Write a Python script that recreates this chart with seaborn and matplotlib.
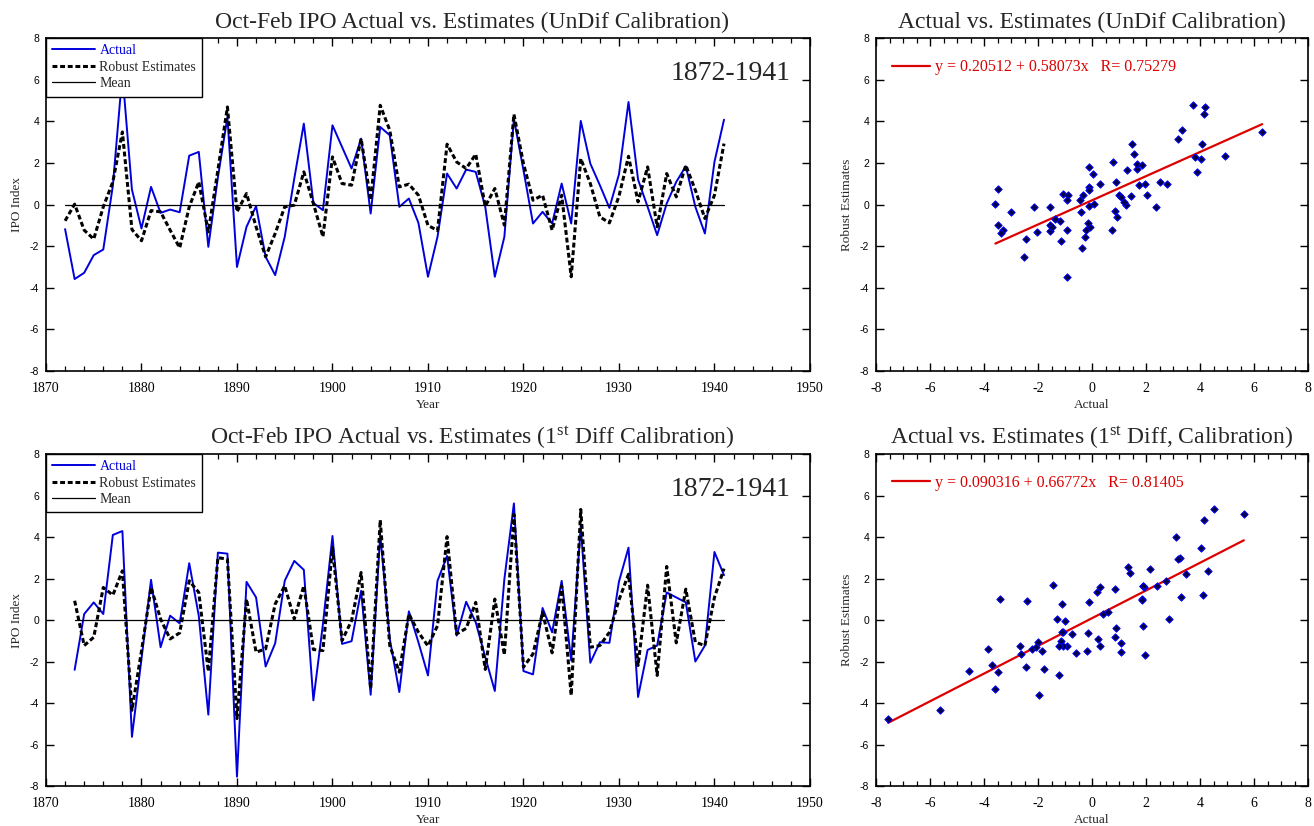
import numpy as np
import pandas as pd
import matplotlib
matplotlib.use("Agg")
import matplotlib.pyplot as plt
import seaborn as sns

# ---------------- data ----------------
years_undif = list(range(1872, 1942))
actual_undif = [-1.18, -3.58, -3.28, -2.43, -2.16, 0.9, 6.3, 0.72, -1.15, 0.85,
                -0.4, -0.24, -0.37, 2.35, 2.53, -2.03, 1.3, 4.2, -3.0, -1.07,
                -0.08, -2.51, -3.39, -1.55, 1.25, 3.89, 0.08, -0.27, 3.81, 2.77,
                1.73, 3.17, -0.43, 3.73, 3.33, -0.11, 0.29, -0.88, -3.47, -1.55,
                1.49, 0.77, 1.68, 1.57, -0.11, -3.47, -1.55, 4.13, 1.65, -0.91,
                -0.35, -0.91, 1.01, -0.91, 4.02, 1.97, 0.93, -0.16, 1.45, 4.93,
                1.2, -0.11, -1.47, 0.05, 1.09, 1.84, -0.11, -1.39, 2.05, 4.08]
robust_undif = [-0.78, 0.02, -1.23, -1.66, -0.11, 1.09, 3.49, -1.2, -1.74, -0.29,
                -0.35, -1.23, -2.08, -0.11, 1.09, -1.31, 1.65, 4.69, -0.35, 0.53,
                -1.07, -2.51, -1.39, -0.11, -0.03, 1.57, 0.05, -1.55, 2.29, 1.01,
                0.93, 3.17, 0.21, 4.77, 3.57, 0.85, 0.98, 0.45, -1.0, -1.25,
                2.9, 2.05, 1.73, 2.42, -0.08, 0.77, -0.99, 4.34, 1.97, 0.21,
                0.45, -1.23, 0.45, -3.47, 2.21, 1.01, -0.59, -0.88, 0.4, 2.32,
                0.13, 1.81, -1.07, 1.49, 0.37, 1.89, 0.69, -0.67, 0.45, 2.93]
mean_undif = [0.0] * len(years_undif)

years_diff = list(range(1873, 1942))
actual_diff = [-2.4, 0.29, 0.85, 0.29, 4.1, 4.29, -5.63, -1.87, 1.94, -1.31,
               0.21, -0.16, 2.74, 0.2, -4.56, 3.25, 3.2, -7.55, 1.84, 1.09,
               -2.24, -1.12, 1.89, 2.85, 2.42, -3.87, -0.2, 4.05, -1.15, -1.02,
               1.41, -3.6, 4.13, -0.91, -3.47, 0.42, -1.07, -2.67, 1.89, 3.09,
               -0.75, 0.88, -0.11, -1.79, -3.42, 1.97, 5.62, -2.46, -2.62, 0.58,
               -0.59, 1.89, -1.95, 4.53, -2.06, -1.07, -1.1, 1.85, 3.49, -3.71,
               -1.44, -1.23, 1.33, 1.09, 0.85, -2.0, -1.23, 3.28, 2.16]
robust_diff = [0.93, -1.23, -0.83, 1.57, 1.2, 2.37, -4.35, -1.5, 1.57, 0.05,
               -0.91, -0.62, 1.89, 1.33, -2.48, 3.01, 2.93, -4.75, 1.01, -1.55,
               -1.39, 0.77, 1.65, 0.05, 1.65, -1.42, -1.47, 3.49, -0.99, -0.03,
               2.29, -3.31, 4.82, -1.23, -2.51, 0.29, -0.59, -1.25, -0.27, 4.02,
               -0.67, -0.4, 0.85, -2.38, 1.01, -1.68, 5.09, -2.27, -1.63, 0.37,
               -1.58, 1.65, -3.63, 5.33, -1.31, -1.23, -0.59, 0.97, 2.21, -2.19,
               1.68, -2.67, 2.58, -1.1, 1.49, -1.07, -1.23, 1.09, 2.48]
mean_diff = [0.0] * len(years_diff)

fit_undif = (0.20512, 0.58073, 0.75279)
fit_diff = (0.090316, 0.66772, 0.81405)

titles_ts = ["Oct-Feb IPO Actual vs. Estimates (UnDif Calibration)",
             r"Oct-Feb IPO Actual vs. Estimates (1$^{\mathrm{st}}$ Diff Calibration)"]
titles_sc = ["Actual vs. Estimates (UnDif Calibration)",
             r"Actual vs. Estimates (1$^{\mathrm{st}}$ Diff, Calibration)"]
fit_labels = ["y = 0.20512 + 0.58073x   R= 0.75279",
              "y = 0.090316 + 0.66772x   R= 0.81405"]
period_label = "1872-1941"

# ---------------- style ----------------
sns.set_theme(style="ticks")
plt.rcParams["font.family"] = ["Liberation Serif", "DejaVu Serif"]
plt.rcParams["mathtext.fontset"] = "custom"
plt.rcParams["mathtext.rm"] = "Liberation Serif"
plt.rcParams["mathtext.it"] = "Liberation Serif:italic"
plt.rcParams["axes.unicode_minus"] = False
plt.rcParams["axes.linewidth"] = 1.2
plt.rcParams["axes.edgecolor"] = "black"

fig = plt.figure(figsize=(13.14, 8.26), dpi=100)
fig.patch.set_facecolor("white")

ax_ts = [fig.add_axes([0.0350, 0.5508, 0.5814, 0.4031]),
         fig.add_axes([0.0350, 0.0484, 0.5814, 0.4019])]
ax_sc = [fig.add_axes([0.6667, 0.5508, 0.3288, 0.4031]),
         fig.add_axes([0.6667, 0.0484, 0.3288, 0.4019])]

series = [(years_undif, actual_undif, robust_undif, mean_undif),
          (years_diff, actual_diff, robust_diff, mean_diff)]
fits = [fit_undif, fit_diff]


def style_ticks(ax):
    ax.tick_params(which="both", direction="in", top=True, right=True,
                   colors="black")
    ax.tick_params(which="major", length=6, width=1.0)
    ax.tick_params(which="minor", length=3.5, width=0.9)
    ax.tick_params(axis="x", labelsize=10, pad=8)
    ax.tick_params(axis="y", labelsize=7.5, pad=5)
    for lab in ax.get_yticklabels():
        lab.set_family(["Liberation Sans", "DejaVu Sans"])
    for s in ax.spines.values():
        s.set_visible(True)
        s.set_color("black")
        s.set_linewidth(1.2)


for i, ax in enumerate(ax_ts):
    yrs, act, rob, mn = series[i]
    df = pd.DataFrame({"Year": yrs, "Actual": act, "Robust": rob, "Mean": mn})
    sns.lineplot(data=df, x="Year", y="Actual", ax=ax, color="#0000dd",
                 lw=1.4, label="Actual")
    sns.lineplot(data=df, x="Year", y="Robust", ax=ax, color="black",
                 lw=2.2, label="Robust Estimates")
    ax.lines[-1].set_dashes((1.6, 0.9))
    sns.lineplot(data=df, x="Year", y="Mean", ax=ax, color="black",
                 lw=0.9, label="Mean")
    ax.set_xlim(1870, 1950)
    ax.set_ylim(-8, 8)
    ax.set_xticks(range(1870, 1951, 10))
    ax.set_xticks(range(1870, 1951, 2), minor=True)
    ax.set_yticks(range(-8, 9, 2))
    style_ticks(ax)
    ax.set_xlabel("Year", fontsize=9.5, labelpad=3)
    ax.set_ylabel("IPO Index", fontsize=9.5, labelpad=5)
    ax.set_title(titles_ts[i], fontsize=17, pad=7, x=0.558)
    leg = ax.legend(loc="upper left", bbox_to_anchor=(0, 1), borderaxespad=0,
                    fontsize=10, handlelength=3.1, handletextpad=0.3,
                    labelspacing=0.25, borderpad=0.45, fancybox=False,
                    framealpha=1, edgecolor="black")
    leg.get_frame().set_linewidth(1.0)
    leg.get_texts()[0].set_color("#0000dd")
    ax.text(0.975, 0.93, period_label, transform=ax.transAxes, ha="right",
            va="top", fontsize=20)

for i, ax in enumerate(ax_sc):
    yrs, act, rob, mn = series[i]
    b0, b1, r = fits[i]
    df = pd.DataFrame({"Actual": act, "Robust": rob})
    sns.scatterplot(data=df, x="Actual", y="Robust", ax=ax, marker="D", s=14,
                    color="#000040", edgecolor="#0000ff", linewidth=0.7,
                    zorder=3)
    xs = np.array([min(act), max(act)])
    ax.plot(xs, b0 + b1 * xs, color="#dd0000", lw=1.6, label=fit_labels[i],
            zorder=2)
    ax.set_xlim(-8, 8)
    ax.set_ylim(-8, 8)
    ax.set_xticks(range(-8, 9, 2))
    ax.set_xticks(np.arange(-8, 8.01, 0.5), minor=True)
    ax.set_yticks(range(-8, 9, 2))
    style_ticks(ax)
    ax.set_xlabel("Actual", fontsize=9.5, labelpad=3)
    ax.set_ylabel("Robust Estimates", fontsize=9.5, labelpad=5)
    ax.set_title(titles_sc[i], fontsize=17, pad=7)
    leg = ax.legend(loc="center left", bbox_to_anchor=(0.037, 0.9127),
                    frameon=False, fontsize=11.5, handlelength=2.4,
                    handletextpad=0.3, borderaxespad=0, borderpad=0)
    for t in leg.get_texts():
        t.set_color("#dd0000")

fig.savefig("out.png", dpi=100, facecolor="white")
